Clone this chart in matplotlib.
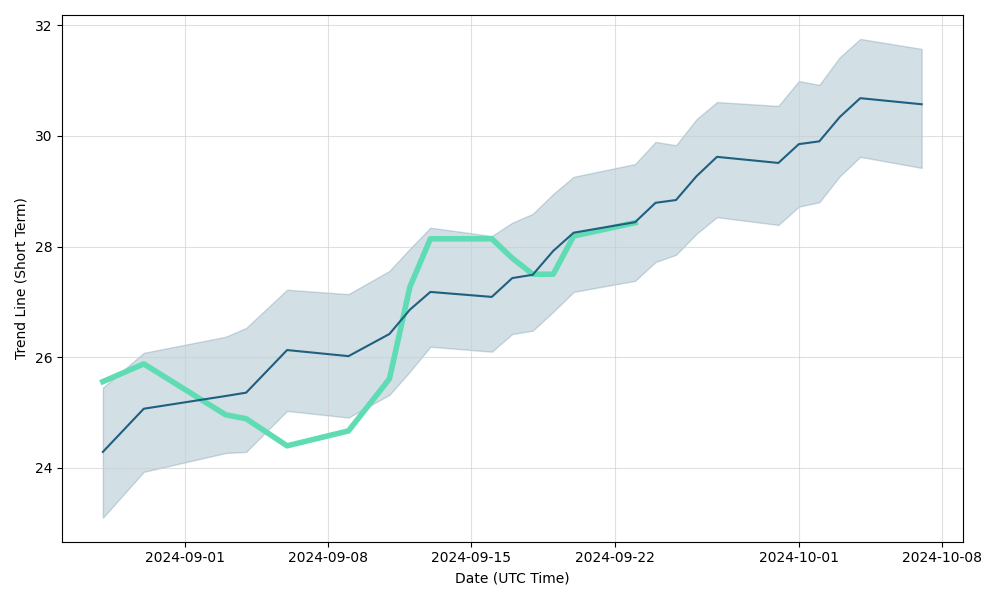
import numpy as np
import pandas as pd
import matplotlib
matplotlib.use("Agg")
import matplotlib.pyplot as plt

dates = pd.to_datetime([
    "2024-08-28", "2024-08-30", "2024-09-03", "2024-09-04", "2024-09-06",
    "2024-09-09", "2024-09-11", "2024-09-12", "2024-09-13", "2024-09-16",
    "2024-09-17", "2024-09-18", "2024-09-19", "2024-09-20", "2024-09-23",
    "2024-09-24", "2024-09-25", "2024-09-26", "2024-09-27", "2024-09-30",
    "2024-10-01", "2024-10-02", "2024-10-03", "2024-10-04", "2024-10-07",
])
trend = [24.29, 25.07, 25.30, 25.36, 26.13, 26.02, 26.42, 26.86, 27.18, 27.09,
         27.43, 27.49, 27.92, 28.25, 28.44, 28.79, 28.84, 29.27, 29.62, 29.51,
         29.85, 29.90, 30.34, 30.68, 30.57]
upper = [25.45, 26.08, 26.37, 26.53, 27.22, 27.14, 27.56, 27.96, 28.34, 28.19,
         28.43, 28.59, 28.95, 29.26, 29.49, 29.89, 29.83, 30.30, 30.61, 30.54,
         30.99, 30.92, 31.42, 31.75, 31.57]
lower = [23.10, 23.93, 24.27, 24.29, 25.03, 24.91, 25.32, 25.74, 26.19, 26.10,
         26.42, 26.48, 26.82, 27.18, 27.38, 27.72, 27.85, 28.23, 28.53, 28.39,
         28.72, 28.80, 29.27, 29.62, 29.42]

# actual price only until 09-23
price_dates = dates[:15]
price = [25.56, 25.88, 24.96, 24.89, 24.40, 24.67, 25.61, 27.27, 28.14, 28.14,
         27.79, 27.50, 27.50, 28.19, 28.43]

fig, ax = plt.subplots(figsize=(10, 6), dpi=100)

ax.fill_between(dates, lower, upper, color="#1f5f7f", alpha=0.2)
ax.plot(price_dates, price, color="#5fdcb3", linewidth=4)
ax.plot(dates, trend, color="#1f5f7f", linewidth=1.5)

ax.set_xlabel("Date (UTC Time)")
ax.set_ylabel("Trend Line (Short Term)")
ax.grid(True, color="#cccccc", alpha=0.6)

plt.tight_layout()
plt.savefig("out.png")
